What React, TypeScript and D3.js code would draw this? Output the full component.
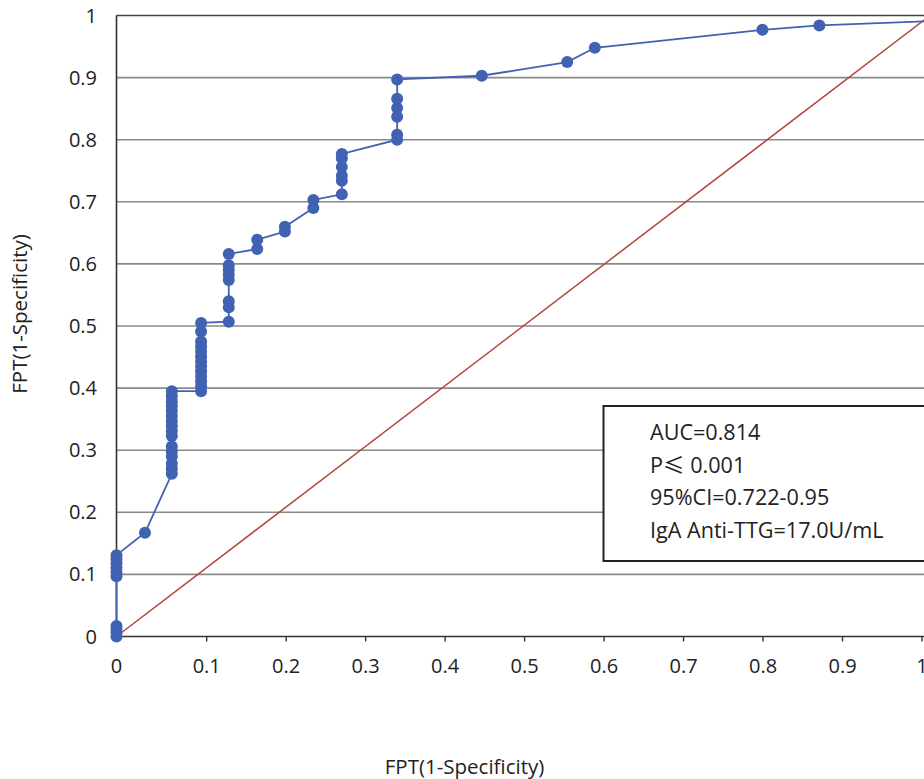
import React from "react";
import * as d3 from "d3";

// ROC curve points (false positive rate, true positive rate)
const rocFpr = [
  0, 0, 0, 0,
  0, 0, 0, 0, 0, 0,
  0.035,
  0.068, 0.068, 0.068, 0.068, 0.068, 0.068, 0.068, 0.068, 0.068, 0.068, 0.068, 0.068, 0.068, 0.068, 0.068, 0.068,
  0.104, 0.104, 0.104, 0.104, 0.104, 0.104, 0.104, 0.104, 0.104, 0.104, 0.104, 0.104, 0.104,
  0.138, 0.138, 0.138, 0.138, 0.138, 0.138, 0.138, 0.138,
  0.173, 0.173,
  0.207, 0.207,
  0.242, 0.242,
  0.277, 0.277, 0.277, 0.277, 0.277, 0.277,
  0.345, 0.345, 0.345, 0.345, 0.345, 0.345,
  0.449, 0.554, 0.588, 0.794, 0.864, 1.0,
];
const rocTpr = [
  0, 0.006, 0.011, 0.017,
  0.097, 0.104, 0.111, 0.118, 0.125, 0.131,
  0.167,
  0.262, 0.27, 0.278, 0.29, 0.298, 0.306, 0.323, 0.331, 0.339, 0.347, 0.355, 0.363, 0.371, 0.379, 0.387, 0.395,
  0.395, 0.403, 0.411, 0.419, 0.427, 0.435, 0.443, 0.451, 0.459, 0.467, 0.475, 0.491, 0.505,
  0.507, 0.53, 0.54, 0.574, 0.582, 0.59, 0.598, 0.616,
  0.624, 0.639,
  0.652, 0.66,
  0.69, 0.703,
  0.712, 0.734, 0.742, 0.756, 0.77, 0.777,
  0.8, 0.808, 0.837, 0.851, 0.866, 0.897,
  0.903, 0.925, 0.948, 0.977, 0.984, 0.991,
];
const refLine = [0, 1];
const yTicks = [0, 0.1, 0.2, 0.3, 0.4, 0.5, 0.6, 0.7, 0.8, 0.9, 1];
const yTickLabels = ["0", "0.1", "0.2", "0.3", "0.4", "0.5", "0.6", "0.7", "0.8", "0.9", "1"];
const xTicks = [0.1, 0.2, 0.3, 0.4, 0.5, 0.6, 0.7, 0.8, 0.9, 1];
const xTickLabels = ["0.1", "0.2", "0.3", "0.4", "0.5", "0.6", "0.7", "0.8", "0.9", "1"];
const xTitle = "FPT(1-Specificity)";
const yTitle = "FPT(1-Specificity)";
const legendLines = ["AUC=0.814", "P≤ 0.001", "95%CI=0.722-0.95", "IgA Anti-TTG=17.0U/mL"];

const W = 924;
const H = 779;
const FONT = "'Open Sans', 'Noto Sans', sans-serif";
const BLUE = "#4162b2";
const RED = "#b3433b";

export default function App() {
  const x = d3.scaleLinear().domain([0, 1]).range([116.5, 930]);
  const y = d3.scaleLinear().domain([0, 1]).range([636.5, 15.5]);
  const xt = d3.scaleLinear().domain([0.1, 1]).range([206.7, 922]);

  const idx = rocFpr.map((_, i) => i);
  const curve = d3
    .line<number>()
    .x((i) => x(rocFpr[i]))
    .y((i) => y(rocTpr[i]))(idx) as string;
  const diag = d3
    .line<number>()
    .x((v) => x(v))
    .y((v) => y(v))(refLine) as string;

  const legendX = 650;
  const legendBaselines = [440, 472.5, 505, 538];

  return (
    <svg
      width={W}
      height={H}
      style={{ position: "absolute", left: 0, top: 0, background: "#fff" }}
      fontFamily={FONT}
    >
      <rect x={0} y={0} width={W} height={H} fill="#fff" />
      {/* gridlines */}
      {yTicks.slice(1, -1).map((t) => (
        <line key={t} x1={x(0)} x2={W} y1={y(t)} y2={y(t)} stroke="#8a8a8a" strokeWidth={1.6} />
      ))}
      <line x1={x(0)} x2={W} y1={y(1)} y2={y(1)} stroke="#444" strokeWidth={1.6} />
      {/* diagonal reference */}
      <path d={diag} fill="none" stroke={RED} strokeWidth={1.5} />
      {/* axes */}
      <line x1={x(0)} x2={W} y1={y(0)} y2={y(0)} stroke="#333" strokeWidth={1.6} />
      <line x1={x(0)} x2={x(0)} y1={y(0)} y2={y(1)} stroke="#333" strokeWidth={1.6} />
      {xTicks.map((t) => (
        <line key={t} x1={xt(t)} x2={xt(t)} y1={y(0)} y2={y(0) + 5} stroke="#333" strokeWidth={1.4} />
      ))}
      {/* tick labels */}
      {yTicks.map((t, i) => (
        <text key={t} x={97} y={y(t) + 7} textAnchor="end" fontSize={20} fill="#222">
          {yTickLabels[i]}
        </text>
      ))}
      <text x={x(0)} y={673} textAnchor="middle" fontSize={20} fill="#222">
        0
      </text>
      {xTicks.map((t, i) => (
        <text key={t} x={xt(t)} y={673} textAnchor="middle" fontSize={20} fill="#222">
          {xTickLabels[i]}
        </text>
      ))}
      {/* titles */}
      <text x={464.5} y={773.5} textAnchor="middle" fontSize={20.5} fill="#222">
        {xTitle}
      </text>
      <text
        transform={`translate(27,314) rotate(-90)`}
        textAnchor="middle"
        fontSize={20.5}
        fill="#222"
      >
        {yTitle}
      </text>
      {/* ROC curve */}
      <path d={curve} fill="none" stroke={BLUE} strokeWidth={1.8} />
      {idx.map((i) => (
        <circle key={i} cx={x(rocFpr[i])} cy={y(rocTpr[i])} r={6} fill={BLUE} />
      ))}
      {/* legend box */}
      <rect x={603.5} y={406} width={340} height={155} fill="#fff" stroke="#222" strokeWidth={2} />
      {legendLines.map((s, i) => (
        <text key={i} x={legendX} y={legendBaselines[i]} fontSize={21.6} fill="#222">
          {s.includes("≤") ? (
            <>
              {s.split("≤")[0]}
              <tspan fontFamily="'Noto Sans CJK SC'">≤</tspan>
              {s.split("≤")[1]}
            </>
          ) : (
            s
          )}
        </text>
      ))}
    </svg>
  );
}
